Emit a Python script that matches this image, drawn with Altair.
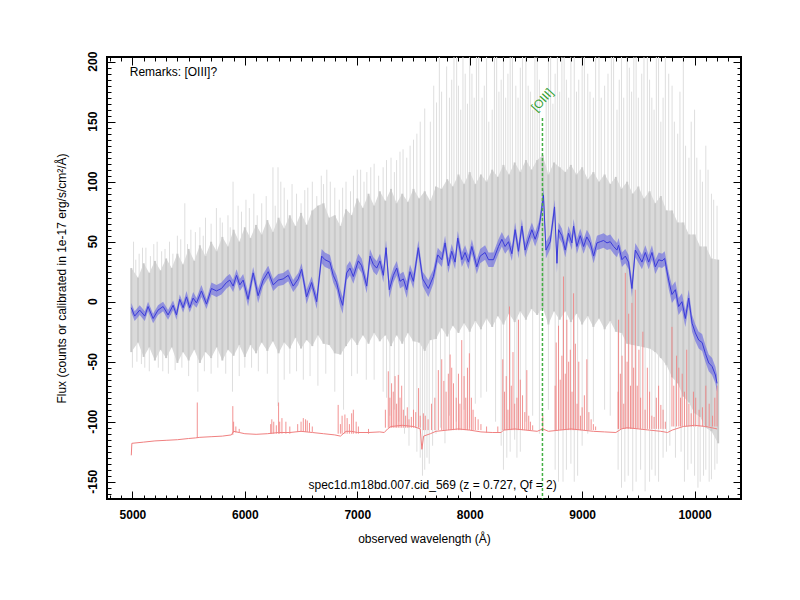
import altair as alt
import pandas as pd

# ---------------- data ----------------
# smoothed object spectrum (blue) and its uncertainty
blue_wl = [
    4990, 5020, 5065, 5110, 5139, 5184, 5228, 5273, 5317, 5362,
    5392, 5421, 5451, 5481, 5510, 5540, 5570, 5614, 5659, 5703,
    5748, 5792, 5837, 5866, 5896, 5926, 5955, 5985, 6029, 6074,
    6118, 6163, 6208, 6252, 6297, 6341, 6386, 6430, 6475, 6505,
    6549, 6594, 6639, 6683, 6712, 6757, 6786, 6816, 6846, 6870,
    6906, 6935, 6965, 7009, 7039, 7084, 7113, 7143, 7173, 7202,
    7232, 7256, 7285, 7321, 7351, 7380, 7410, 7440, 7469, 7499,
    7543, 7582, 7632, 7677, 7716, 7752, 7781, 7810, 7840, 7870,
    7894, 7930, 7959, 7989, 8019, 8063, 8093, 8137, 8167, 8211,
    8256, 8286, 8315, 8345, 8375, 8404, 8434, 8464, 8493, 8523,
    8553, 8582, 8612, 8627, 8656, 8678, 8716, 8755, 8776, 8790,
    8820, 8850, 8879, 8909, 8924, 8953, 8983, 9013, 9042, 9072,
    9102, 9132, 9161, 9191, 9221, 9250, 9280, 9310, 9324, 9354,
    9384, 9413, 9443, 9473, 9503, 9532, 9562, 9592, 9621, 9651,
    9681, 9711, 9734, 9769, 9799, 9829, 9858, 9888, 9918, 9948,
    9978, 10007, 10037, 10067, 10096, 10126, 10156, 10185, 10200]
blue_flux = [
    -5, -12, -7, -12, -4, -14, -7, -4, -11, -3,
    -11, 2, -5, 4, -5, 3, -1, 9, -2, 11,
    9, 11, 16, 18, 13, 22, 14, 18, 2, 24,
    5, 18, 25, 14, 18, 19, 22, 13, 19, 27,
    4, 16, 0, 38, 35, 33, 22, 16, 4, -3,
    24, 28, 21, 34, 30, 13, 38, 31, 28, 34,
    22, 45, 10, 22, 28, 17, 19, 10, 25, 17,
    45, 19, 11, 21, 39, 35, 49, 30, 42, 33,
    53, 35, 41, 33, 46, 29, 38, 41, 35, 35,
    46, 52, 46, 50, 40, 60, 42, 63, 43, 52,
    60, 52, 60, 68, 89, 43, 50, 79, 32, 60,
    55, 43, 57, 49, 63, 46, 55, 46, 54, 49,
    38, 49, 50, 51, 49, 50, 46, 43, 47, 35,
    38, 33, 11, 43, 38, 33, 41, 33, 41, 29,
    35, 34, 36, 18, 6, 10, -4, 0, -14, 3,
    -18, -26, -32, -34, -43, -51, -54, -61, -68]
blue_err = [
    4, 4, 4, 4, 4, 4, 4, 4, 4, 4,
    4, 4, 4, 5, 4, 5, 4, 5, 4, 5,
    5, 5, 5, 5, 5, 5, 5, 5, 6, 5,
    6, 5, 5, 5, 5, 5, 5, 5, 5, 5,
    6, 5, 6, 6, 6, 6, 6, 6, 7, 7,
    6, 6, 6, 6, 6, 6, 6, 6, 6, 6,
    6, 6, 7, 6, 6, 6, 6, 7, 6, 6,
    6, 6, 7, 6, 6, 6, 6, 6, 6, 6,
    6, 6, 6, 6, 6, 6, 6, 6, 6, 6,
    6, 6, 6, 6, 6, 6, 6, 6, 6, 6,
    6, 6, 6, 6, 6, 7, 6, 6, 8, 6,
    6, 6, 6, 6, 6, 6, 6, 6, 6, 6,
    6, 6, 6, 6, 6, 6, 6, 6, 6, 6,
    6, 6, 7, 6, 6, 6, 6, 6, 6, 6,
    6, 6, 6, 7, 7, 7, 7, 7, 7, 7,
    7, 7, 7, 7, 7, 7, 7, 7, 7]

# raw spectrum (grey): dense envelope
gray_wl = [
    4990, 5050, 5100, 5150, 5200, 5250, 5300, 5350, 5400, 5450,
    5500, 5550, 5600, 5650, 5700, 5750, 5800, 5850, 5900, 5950,
    6000, 6050, 6100, 6150, 6200, 6250, 6300, 6350, 6400, 6450,
    6500, 6550, 6600, 6650, 6700, 6750, 6800, 6850, 6900, 6950,
    7000, 7050, 7100, 7150, 7200, 7250, 7300, 7350, 7400, 7450,
    7500, 7550, 7600, 7650, 7700, 7750, 7800, 7850, 7900, 7950,
    8000, 8050, 8100, 8150, 8200, 8250, 8300, 8350, 8400, 8450,
    8500, 8550, 8600, 8650, 8700, 8750, 8800, 8850, 8900, 8950,
    9000, 9050, 9100, 9150, 9200, 9250, 9300, 9350, 9400, 9450,
    9500, 9550, 9600, 9650, 9700, 9750, 9800, 9850, 9900, 9950,
    10000, 10050, 10100, 10150, 10210]
gray_hi = [
    28, 20, 32, 24, 34, 26, 36, 28, 40, 31,
    44, 34, 47, 38, 50, 42, 54, 46, 60, 50,
    62, 53, 64, 56, 68, 58, 70, 61, 72, 63,
    74, 64, 76, 80, 82, 70, 72, 63, 77, 72,
    86, 78, 90, 80, 92, 84, 94, 82, 90, 83,
    94, 86, 92, 84, 96, 94, 102, 96, 106, 98,
    108, 98, 106, 100, 110, 104, 114, 106, 116, 108,
    118, 110, 118, 122, 106, 116, 112, 108, 114, 106,
    112, 102, 108, 100, 106, 98, 104, 94, 100, 90,
    96, 86, 92, 82, 88, 76, 76, 66, 66, 56,
    56, 46, 46, 36, 35]
gray_lo = [
    -42, -34, -46, -38, -49, -40, -47, -38, -51, -42,
    -49, -40, -51, -42, -47, -38, -49, -40, -45, -36,
    -46, -36, -43, -34, -41, -33, -43, -34, -39, -30,
    -39, -32, -37, -28, -35, -36, -43, -44, -37, -30,
    -36, -28, -35, -26, -33, -28, -37, -28, -35, -26,
    -33, -34, -41, -32, -31, -22, -29, -20, -26, -18,
    -25, -16, -23, -14, -21, -12, -19, -10, -17, -8,
    -15, -6, -11, -5, -19, -8, -15, -8, -17, -10,
    -19, -12, -21, -14, -23, -16, -25, -26, -35, -36,
    -37, -38, -39, -42, -47, -53, -63, -68, -79, -84,
    -93, -96, -105, -108, -118]

# raw spectrum (grey): isolated noise spikes
up_wl = [5010, 5030, 5060, 5090, 5120, 5160, 5190, 5220, 5260, 5290,
         5330, 5360, 5400, 5430, 5466, 5490, 5520, 5560, 5600, 5630,
         5650, 5700, 5747, 5780, 5800, 5850, 5870, 5895, 5940, 5970,
         6010, 6040, 6080, 6110, 6150, 6190, 6250, 6270, 6295, 6320,
         6350, 6380, 6420, 6460, 6500, 6533, 6560, 6600, 6640, 6680,
         6700, 6729, 6760, 6800, 6840, 6870, 6900, 6940, 6966, 7000,
         7030, 7060, 7085, 7120, 7150, 7190, 7230, 7260, 7300, 7330,
         7350, 7380, 7407, 7440, 7470, 7500, 7530, 7560, 7600, 7650,
         7680, 7705, 7730, 7750, 7795, 7820, 7840, 7860, 7884, 7900,
         7920, 7940, 7960, 7980, 8000, 8020, 8040, 8060, 8080, 8110,
         8130, 8150, 8170, 8200, 8220, 8240, 8260, 8280, 8300, 8320,
         8340, 8360, 8380, 8410, 8430, 8450, 8470, 8500, 8520, 8540,
         8560, 8580, 8600, 8620, 8680, 8700, 8720, 8740, 8760, 8780,
         8800, 8820, 8840, 8860, 8880, 8900, 8930, 8950, 8970, 9000,
         9020, 9050, 9070, 9100, 9120, 9150, 9170, 9200, 9230, 9260,
         9280, 9310, 9330, 9350, 9370, 9400, 9420, 9440, 9460, 9480,
         9500, 9530, 9550, 9580, 9600, 9620, 9640, 9660, 9680, 9700,
         9720, 9740, 9770, 9800, 9820, 9850, 9870, 9900, 9920, 9950,
         9970, 10000, 10020, 10050, 10070, 10100, 10120, 10150, 10170, 10200]
up_top = [50, 35, 40, 45, 45, 38, 48, 50, 42, 44,
          50, 40, 55, 52, 82, 48, 60, 58, 62, 55,
          70, 65, 78, 70, 66, 72, 62, 100, 80, 75,
          85, 78, 90, 72, 82, 88, 112, 80, 112, 100,
          95, 85, 98, 90, 82, 93, 95, 100, 88, 105,
          98, 110, 100, 95, 85, 95, 100, 92, 105, 110,
          110, 100, 108, 112, 115, 105, 112, 118, 120, 108,
          118, 125, 127, 120, 130, 135, 140, 150, 161, 150,
          180, 166, 205, 175, 196, 170, 185, 205, 205, 180,
          160, 205, 190, 165, 205, 190, 170, 205, 205, 170,
          180, 205, 150, 160, 205, 205, 175, 185, 205, 170,
          190, 205, 205, 180, 170, 195, 205, 205, 180, 175,
          160, 205, 205, 185, 170, 205, 205, 165, 190, 205,
          175, 205, 205, 185, 170, 205, 205, 175, 185, 205,
          205, 190, 175, 170, 205, 205, 170, 180, 190, 205,
          205, 160, 185, 205, 170, 205, 195, 175, 205, 205,
          170, 190, 205, 205, 185, 170, 160, 205, 205, 150,
          170, 205, 190, 180, 150, 140, 175, 205, 130, 120,
          150, 160, 120, 110, 100, 130, 110, 90, 85, 80]
dn_wl = [5000, 5040, 5080, 5110, 5150, 5230, 5270, 5320, 5380, 5440,
         5500, 5582, 5640, 5700, 5760, 5830, 5890, 5950, 6000, 6060,
         6120, 6200, 6295, 6350, 6400, 6460, 6520, 6580, 6650, 6720,
         6800, 6878, 6950, 7000, 7080, 7150, 7230, 7260, 7290, 7330,
         7370, 7420, 7460, 7500, 7530, 7560, 7580, 7600, 7620, 7640,
         7670, 7700, 7740, 7780, 7820, 7880, 7950, 8000, 8050, 8100,
         8150, 8230, 8280, 8300, 8330, 8360, 8400, 8420, 8450, 8500,
         8560, 8620, 8700, 8760, 8790, 8830, 8860, 8900, 8930, 8960,
         9000, 9050, 9100, 9200, 9250, 9320, 9350, 9380, 9410, 9450,
         9480, 9520, 9560, 9600, 9620, 9650, 9680, 9720, 9750, 9780,
         9830, 9880, 9910, 9940, 9970, 10000, 10030, 10050, 10080, 10100,
         10130, 10150, 10180, 10200]
dn_bot = [-55, -50, -52, -55, -58, -55, -58, -60, -57, -55,
          -62, -75, -58, -60, -55, -60, -75, -62, -55, -55,
          -58, -60, -87, -65, -60, -58, -65, -62, -70, -60,
          -75, -90, -62, -60, -65, -65, -75, -80, -95, -90,
          -100, -110, -120, -100, -125, -130, -145, -140, -130, -135,
          -120, -110, -105, -118, -95, -100, -90, -105, -85, -80,
          -75, -100, -120, -140, -130, -125, -115, -130, -125, -100,
          -95, -110, -90, -140, -150, -150, -140, -135, -150, -145,
          -120, -110, -100, -90, -95, -140, -155, -150, -145, -158,
          -150, -140, -158, -150, -140, -145, -150, -130, -125, -120,
          -130, -125, -150, -140, -135, -145, -155, -150, -145, -140,
          -150, -148, -140, -135]

# sky spectrum (red): continuum and emission lines
sky_wl = [4990, 4995, 5100, 5200, 5300, 5400, 5500, 5560, 5600, 5700,
          5800, 5880, 5900, 5950, 6000, 6100, 6200, 6300, 6400, 6500,
          6600, 6700, 6800, 6850, 6900, 6950, 7000, 7100, 7200, 7240,
          7270, 7300, 7400, 7500, 7560, 7575, 7590, 7650, 7700, 7800,
          7900, 8000, 8100, 8200, 8280, 8300, 8400, 8500, 8600, 8650,
          8700, 8800, 8900, 9000, 9100, 9200, 9300, 9350, 9400, 9500,
          9600, 9700, 9760, 9800, 9900, 10000, 10100, 10200]
sky_base = [-128, -118, -117, -116, -115.5, -115, -114, -113.5, -113, -112.5,
            -112, -111, -108, -109, -110, -110.5, -110, -109, -109, -108,
            -109, -110, -111, -112, -108, -108, -109, -109, -108.5, -109,
            -106, -104, -103, -104, -106, -123, -112, -110, -108, -107,
            -106, -107, -108.5, -109, -109, -107, -106, -107, -108, -106,
            -108, -107, -106, -107, -108, -108.5, -109, -106, -105, -106,
            -107, -108, -109, -107, -104, -103, -104, -106]
line_wl = [5577, 5893, 5900, 5920, 5950,
           6230, 6240, 6257, 6280, 6300, 6310, 6330, 6365, 6400,
           6470, 6500, 6520, 6540, 6555, 6575, 6600,
           6830, 6850, 6865, 6890, 6910, 6930, 6950, 6965, 6990, 7010, 7100,
           7250, 7276, 7290, 7305, 7320, 7336, 7350, 7365, 7380, 7395,
           7410, 7430, 7445, 7460, 7481, 7500, 7520, 7545, 7560,
           7588, 7605, 7630, 7660, 7690, 7721, 7751, 7770, 7790, 7810,
           7826, 7840, 7856, 7880, 7900, 7913, 7929, 7950, 7965, 7980,
           7997, 8015, 8030, 8050, 8075, 8100,
           8150, 8250,
           8294, 8310, 8325, 8340, 8354, 8370, 8385, 8400, 8420, 8434,
           8450, 8470, 8490, 8508, 8525, 8540, 8560,
           8650,
           8760, 8769, 8790, 8805, 8820, 8834, 8850, 8864, 8880, 8895,
           8910, 8924, 8940, 8955, 8970, 8985, 9000, 9020, 9042, 9060,
           9080, 9100, 9120,
           9320, 9324, 9340, 9355, 9370, 9384, 9400, 9414, 9430, 9443,
           9458, 9473, 9490, 9505, 9520, 9540, 9560, 9580, 9600, 9620,
           9640, 9660, 9680, 9700, 9720, 9740,
           9799, 9815, 9840, 9860, 9875, 9890, 9910, 9930, 9950, 9970,
           9990, 10010, 10040, 10070, 10100, 10130, 10160, 10180, 10200]
line_peak = [-84, -87, -100, -104, -106,
             -102, -98, -100, -103, -84, -100, -97, -100, -104,
             -102, -100, -97, -98, -99, -101, -104,
             -86, -102, -95, -94, -97, -102, -93, -90, -100, -104, -106,
             -90, -58, -80, -68, -75, -62, -85, -61, -80, -70,
             -90, -95, -88, -98, -96, -90, -92, -72, -95,
             -93, -95, -98, -85, -80, -57, -48, -66, -75, -60,
             -44, -55, -68, -80, -60, -85, -32, -62, -80, -55,
             -43, -80, -90, -96, -98, -102,
             -104, -104,
             -48, -75, -62, -90, -4, -70, -42, -85, -80, -15,
             -65, -78, -92, -57, -95, -100, -103,
             -95,
             -70, -34, -20, -65, -45, 21, -60, -15, -50, -40,
             -75, 7, -35, -85, -50, -95, -88, -78, -48, -92,
             -98, -102, -104,
             -75, -15, -60, -45, -85, 24, -50, -10, -70, -1,
             -55, 10, -70, -40, -80, -25, -90, -55, -75, -95,
             -96, -80, -70, -86, -90, -100,
             -21, -70, -45, -55, -80, -60, -75, -40, -85, -93,
             -75, -80, -90, -88, -70, -85, -95, -80, -70]
line_base = [-113.5, -111, -109, -109, -109,
             -110, -110, -110, -110, -110, -110, -110, -110, -110,
             -108.5, -108.5, -108.5, -108.5, -108.5, -108.5, -108.5,
             -110, -110, -110, -110, -110, -110, -110, -110, -110, -110, -110,
             -105, -105, -105, -105, -105, -105, -105, -105, -105, -105,
             -105, -105, -105, -105, -105, -105, -105, -105, -105,
             -107, -107, -107, -107, -107, -107, -107, -107, -107, -107,
             -107, -107, -107, -107, -107, -107, -107, -107, -107, -107,
             -107, -107, -107, -107, -107, -107,
             -109, -109,
             -107, -107, -107, -107, -107, -107, -107, -107, -107, -107,
             -107, -107, -107, -107, -107, -107, -107,
             -108,
             -107, -107, -107, -107, -107, -107, -107, -107, -107, -107,
             -107, -107, -107, -107, -107, -107, -107, -107, -107, -107,
             -107, -107, -107,
             -106, -106, -106, -106, -106, -106, -106, -106, -106, -106,
             -106, -106, -106, -106, -106, -106, -106, -106, -106, -106,
             -106, -106, -106, -106, -106, -106,
             -104, -104, -104, -104, -104, -104, -104, -104, -104, -104,
             -104, -104, -104, -104, -104, -104, -104, -104, -104]

# emission-line marker
oiii_wl = [8647]
oiii_top = [153]
oiii_label = ["[OIII]"]
oiii_label_wl = [8568]
oiii_label_y = [160]

# annotations
note_text = ["Remarks: [OIII]?", "spec1d.m18bd.007.cid_569 (z = 0.727, Qf = 2)"]
note_wl = [4976, 7670]
note_y = [191, -152.5]
note_align = ["left", "center"]

# axes
x_labels = [5000, 6000, 7000, 8000, 9000, 10000]
y_labels = [-150, -100, -50, 0, 50, 100, 150, 200]
y_label_text = ["-150", "-100", "-50", "0", "50", "100", "150", "200"]
x_minor = list(range(4800, 10500, 100))
y_minor = list(range(-160, 205, 5))
X_DOMAIN = [4774, 10413]
Y_DOMAIN = [-164.4, 203.9]

# ---------------- chart ----------------
FONT = "Liberation Sans"
xs = alt.Scale(domain=X_DOMAIN, nice=False, zero=False)
ys = alt.Scale(domain=Y_DOMAIN, nice=False, zero=False)


def tick_axis(orient, values, size):
    return alt.Axis(orient=orient, values=values, labels=False, domain=False,
                    grid=False, ticks=True, tickSize=size, offset=-size,
                    tickColor="black", tickWidth=1, title=None, zindex=2)


ax_x_lab = alt.Axis(orient="bottom", values=x_labels, format="d", ticks=False,
                    domain=False, grid=False, labelFont=FONT, labelFontSize=12,
                    labelFontWeight="bold", labelColor="black", labelPadding=10,
                    labelOverlap=False, labelFlush=False,
                    title="observed wavelength (Å)", titleFont=FONT,
                    titleFontSize=12, titleFontWeight="normal",
                    titleColor="black", titlePadding=13)
# left axis carries only the title; the rotated tick labels are text marks
ax_y_lab = alt.Axis(orient="left", values=y_labels, ticks=False, labels=False,
                    domain=False, grid=False,
                    title="Flux (counts or calibrated in 1e-17 erg/s/cm²/Å)",
                    titleFont=FONT, titleFontSize=12, titleFontWeight="normal",
                    titleColor="black", titlePadding=39)

df_blue = pd.DataFrame({"wl": blue_wl, "flux": blue_flux, "err": blue_err})
df_gray = pd.DataFrame({"wl": gray_wl, "hi": gray_hi, "lo": gray_lo})
df_up = pd.DataFrame({"wl": up_wl, "y": up_top})
df_dn = pd.DataFrame({"wl": dn_wl, "y": dn_bot})
df_sky = pd.DataFrame({"wl": sky_wl, "y": sky_base})
df_lines = pd.DataFrame({"wl": line_wl, "peak": line_peak, "base": line_base})
df_oiii = pd.DataFrame({"wl": oiii_wl, "top": oiii_top})
df_oiii_lab = pd.DataFrame({"wl": oiii_label_wl, "y": oiii_label_y, "t": oiii_label})
df_note = pd.DataFrame({"wl": note_wl, "y": note_y, "t": note_text, "a": note_align})
df_ylab = pd.DataFrame({"v": y_labels, "t": y_label_text})

spikes_up = alt.Chart(df_up).mark_rule(color="#dedede", strokeWidth=1, clip=True).encode(
    x=alt.X("wl:Q", scale=xs, axis=tick_axis("bottom", x_labels, 8)),
    y=alt.Y("y:Q", scale=ys, axis=tick_axis("left", y_labels, 8)),
    y2=alt.datum(0),
)
spikes_dn = alt.Chart(df_dn).mark_rule(color="#dedede", strokeWidth=1, clip=True).encode(
    x=alt.X("wl:Q", scale=xs, axis=tick_axis("bottom", x_minor, 4)),
    y=alt.Y("y:Q", scale=ys, axis=tick_axis("left", y_minor, 4)),
    y2=alt.datum(0),
)
gray = alt.Chart(df_gray).mark_area(color="#dadada", clip=True).encode(
    x=alt.X("wl:Q", scale=xs, axis=ax_x_lab),
    y=alt.Y("lo:Q", scale=ys, axis=ax_y_lab),
    y2="hi:Q",
)
gray_streaks = alt.Chart(df_gray).mark_rule(color="#c9c9c9", strokeWidth=2, clip=True).encode(
    x=alt.X("wl:Q", scale=xs, axis=None),
    y=alt.Y("lo:Q", scale=ys, axis=None),
    y2="hi:Q",
)
sky_rules = alt.Chart(df_lines).mark_rule(color="#f08080", strokeWidth=1, opacity=0.85, clip=True).encode(
    x=alt.X("wl:Q", scale=xs, axis=tick_axis("top", x_labels, 8)),
    y=alt.Y("peak:Q", scale=ys, axis=tick_axis("right", y_labels, 8)),
    y2="base:Q",
)
sky = alt.Chart(df_sky).mark_line(color="#f08080", strokeWidth=1, clip=True).encode(
    x=alt.X("wl:Q", scale=xs, axis=tick_axis("top", x_minor, 4)),
    y=alt.Y("y:Q", scale=ys, axis=tick_axis("right", y_minor, 4)),
)
band = alt.Chart(df_blue).transform_calculate(
    lo="datum.flux - datum.err", hi="datum.flux + datum.err"
).mark_area(color="#6464e2", opacity=0.6, clip=True).encode(
    x=alt.X("wl:Q", scale=xs, axis=None),
    y=alt.Y("lo:Q", scale=ys, axis=None),
    y2="hi:Q",
)
blue = alt.Chart(df_blue).mark_line(color="#3b3bd9", strokeWidth=1, clip=True).encode(
    x=alt.X("wl:Q", scale=xs, axis=None),
    y=alt.Y("flux:Q", scale=ys, axis=None),
)
oiii = alt.Chart(df_oiii).mark_rule(color="#44b044", strokeWidth=1.5, strokeDash=[3, 2]).encode(
    x=alt.X("wl:Q", scale=xs, axis=None),
    y=alt.Y("top:Q", scale=ys, axis=None),
    y2=alt.datum(Y_DOMAIN[0]),
)
oiii_text = alt.Chart(df_oiii_lab).mark_text(
    color="#33a033", font=FONT, fontSize=12, angle=312, align="left", baseline="middle"
).encode(
    x=alt.X("wl:Q", scale=xs, axis=None),
    y=alt.Y("y:Q", scale=ys, axis=None),
    text="t:N",
)
notes_left = alt.Chart(df_note).transform_filter("datum.a == 'left'").mark_text(
    color="black", font=FONT, fontSize=12, align="left", baseline="middle"
).encode(
    x=alt.X("wl:Q", scale=xs, axis=None),
    y=alt.Y("y:Q", scale=ys, axis=None),
    text="t:N",
)
notes_center = alt.Chart(df_note).transform_filter("datum.a == 'center'").mark_text(
    color="black", font=FONT, fontSize=12, align="center", baseline="middle"
).encode(
    x=alt.X("wl:Q", scale=xs, axis=None),
    y=alt.Y("y:Q", scale=ys, axis=None),
    text="t:N",
)
ylabels = alt.Chart(df_ylab).mark_text(
    color="black", font=FONT, fontSize=12, fontWeight="bold", angle=270,
    align="center", baseline="middle"
).encode(
    x=alt.value(-14),
    y=alt.Y("v:Q", scale=ys, axis=None),
    text="t:N",
)

chart = alt.layer(
    spikes_up, spikes_dn, gray, gray_streaks, sky_rules, sky, band, blue, oiii,
    oiii_text, notes_left, notes_center, ylabels,
).resolve_axis(x="independent", y="independent").properties(
    width=634, height=442,
    padding={"left": 99, "top": 49, "right": 51, "bottom": 93},
    autosize=alt.AutoSizeParams(type="none"),
    background="white",
).configure_view(stroke="black", strokeWidth=2)

chart.save("out.html", embed_options={"renderer": "svg", "actions": False})
